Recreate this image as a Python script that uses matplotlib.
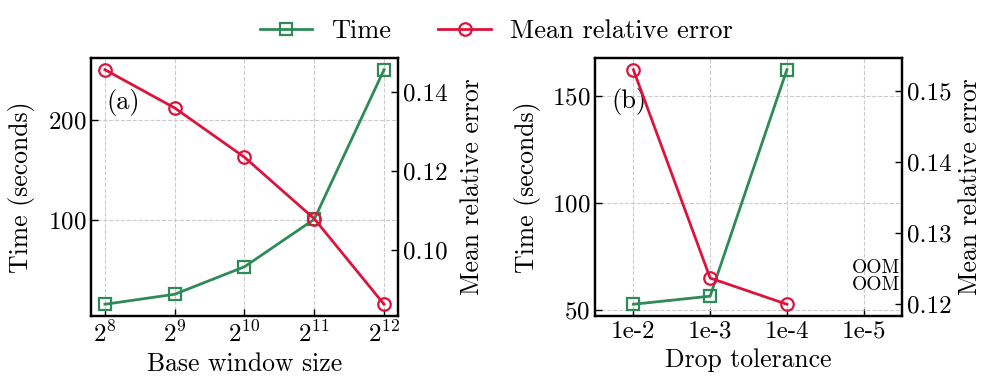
import matplotlib
matplotlib.use("Agg")
import matplotlib.pyplot as plt

# Data
window_labels = ["$2^{8}$", "$2^{9}$", "$2^{10}$", "$2^{11}$", "$2^{12}$"]
window_time = [16, 26, 53.5, 101, 250.5]
window_error = [0.1457, 0.1360, 0.1235, 0.1079, 0.0862]

tol_labels = ["1e-2", "1e-3", "1e-4", "1e-5"]
tol_time = [52.5, 56.3, 162.5]
tol_error = [0.1530, 0.1236, 0.1199]

GREEN = "#2e8b57"
RED = "#dc143c"

plt.rcParams["font.family"] = ["cmr10", "DejaVu Serif"]
plt.rcParams["mathtext.fontset"] = "cm"
plt.rcParams["axes.formatter.use_mathtext"] = True
plt.rcParams["font.size"] = 18


def style_axes(ax, ax2):
  for a in (ax, ax2):
    for s in a.spines.values():
      s.set_linewidth(1.6)
  ax.tick_params(direction="in", length=5, width=1, labelsize=18)
  ax2.tick_params(direction="in", length=5, width=1, labelsize=18)
  ax.grid(True, color="#cccccc", linestyle="--", linewidth=0.8)
  ax.set_axisbelow(True)


def draw_panel(ax, labels, times, errors, pad_left, pad_right):
  ax2 = ax.twinx()
  x = list(range(len(times)))
  lt, = ax.plot(x, times, color=GREEN, marker="s", markersize=9,
                markerfacecolor="none", markeredgewidth=1.6, linewidth=2,
                label="Time", zorder=3)
  le, = ax2.plot(x, errors, color=RED, marker="o", markersize=9,
                 markerfacecolor="none", markeredgewidth=1.6, linewidth=2,
                 label="Mean relative error", zorder=3)
  ax.set_xticks(range(len(labels)))
  ax.set_xticklabels(labels)
  ax.set_ylabel("Time (seconds)", fontsize=18.5, labelpad=pad_left)
  ax2.set_ylabel("Mean relative error", fontsize=18.5, labelpad=pad_right)
  return ax2, lt, le


fig, (ax_a, ax_b) = plt.subplots(1, 2, figsize=(9.98, 3.88), dpi=100)
fig.subplots_adjust(left=0.0912, right=0.9038, bottom=0.1856, top=0.8505,
                    wspace=0.642)

# (a) base window size
ax_a2, lt, le = draw_panel(ax_a, window_labels, window_time, window_error,
                           9, 9)
style_axes(ax_a, ax_a2)
ax_a.set_xlabel("Base window size", fontsize=18.5)
ax_a.set_yticks([100, 200])
ax_a2.set_yticks([0.10, 0.12, 0.14])
ax_a2.set_yticklabels(["0.10", "0.12", "0.14"])
ax_a.text(0.05, 0.826, "(a)", transform=ax_a.transAxes, va="center",
          fontsize=19)

# (b) drop tolerance
ax_b2, _, _ = draw_panel(ax_b, tol_labels, tol_time, tol_error, 8, 5)
style_axes(ax_b, ax_b2)
ax_b.set_xlabel("Drop tolerance", fontsize=18.5)
ax_b.set_xlim(-0.5, len(tol_labels) - 0.5)
ax_b.set_yticks([50, 100, 150])
ax_b2.set_yticks([0.12, 0.13, 0.14, 0.15])
ax_b2.set_yticklabels(["0.12", "0.13", "0.14", "0.15"])
ax_b.text(0.054, 0.83, "(b)", transform=ax_b.transAxes, va="center",
          fontsize=19)
ax_b.text(0.995, 0.185, "OOM", transform=ax_b.transAxes, ha="right",
          va="center", fontsize=14)
ax_b.text(0.995, 0.119, "OOM", transform=ax_b.transAxes, ha="right",
          va="center", fontsize=14)

fig.legend([lt, le], ["Time", "Mean relative error"], loc="center",
           bbox_to_anchor=(0.497, 1 - 31 / 388), ncol=2, frameon=False,
           fontsize=19, columnspacing=1.8, handlelength=2.0,
           handletextpad=0.7)

fig.savefig("out.png", dpi=100)
